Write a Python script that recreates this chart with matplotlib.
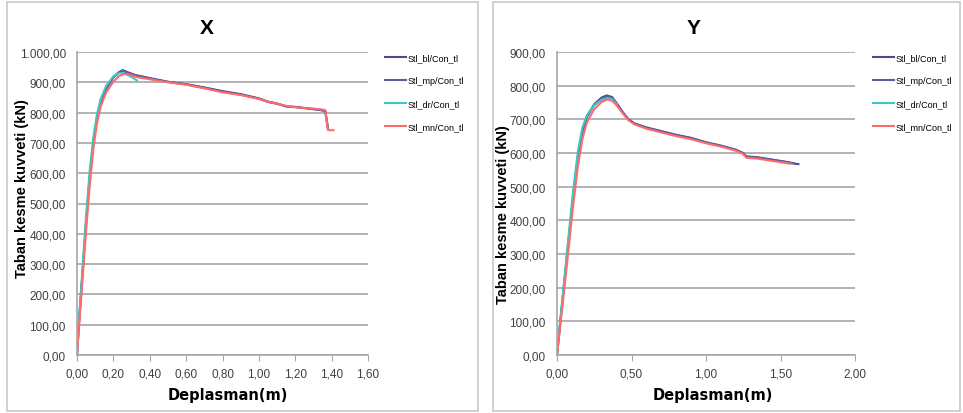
import matplotlib
matplotlib.use("Agg")
import matplotlib.pyplot as plt
from matplotlib.patches import Rectangle
from matplotlib.ticker import FuncFormatter

# --- X direction pushover curves (displacement m, base shear kN)
x_bl_d = [0, 0.01, 0.03, 0.05, 0.07, 0.09, 0.11, 0.13, 0.16, 0.20, 0.23, 0.25, 0.28, 0.32, 0.40,
          0.50, 0.60, 0.70, 0.80, 0.90, 1.00, 1.05, 1.10, 1.15, 1.20, 1.25, 1.30, 1.35, 1.365, 1.38]
x_bl_f = [0, 100, 270, 440, 590, 705, 785, 835, 880, 918, 933, 940, 933, 924, 914,
          902, 894, 883, 871, 861, 847, 836, 830, 820, 819, 815, 812, 807, 805, 748]
x_mp_d = [0, 0.01, 0.03, 0.05, 0.07, 0.09, 0.11, 0.13, 0.16, 0.20, 0.23, 0.25, 0.28, 0.32, 0.40,
          0.50, 0.60, 0.70, 0.80, 0.90, 1.00, 1.05, 1.10, 1.15, 1.20, 1.25, 1.30, 1.35, 1.365, 1.38]
x_mp_f = [0, 95, 265, 435, 585, 700, 782, 833, 878, 916, 931, 938, 931, 922, 912,
          901, 893, 882, 869, 859, 846, 835, 829, 821, 818, 815, 811, 808, 806, 746]
x_dr_d = [0, 0.01, 0.03, 0.05, 0.07, 0.09, 0.11, 0.13, 0.16, 0.20, 0.23, 0.25, 0.28, 0.31, 0.33]
x_dr_f = [0, 110, 285, 460, 610, 720, 795, 845, 888, 920, 930, 931, 924, 914, 906]
x_mn_d = [0, 0.01, 0.03, 0.05, 0.07, 0.09, 0.11, 0.13, 0.16, 0.20, 0.23, 0.26, 0.29, 0.33, 0.40,
          0.50, 0.60, 0.70, 0.80, 0.90, 1.00, 1.05, 1.10, 1.15, 1.20, 1.25, 1.30, 1.35, 1.365, 1.38, 1.41]
x_mn_f = [0, 85, 245, 410, 560, 680, 765, 820, 866, 902, 920, 928, 925, 917, 910,
          900, 892, 880, 867, 858, 845, 836, 830, 822, 818, 815, 813, 810, 808, 742, 742]

# --- Y direction pushover curves
y_bl_d = [0, 0.02, 0.05, 0.08, 0.11, 0.14, 0.17, 0.20, 0.25, 0.30, 0.335, 0.37, 0.40, 0.44,
          0.48, 0.52, 0.60, 0.70, 0.80, 0.90, 1.00, 1.10, 1.20, 1.25, 1.27, 1.35, 1.45, 1.55, 1.60, 1.62]
y_bl_f = [0, 90, 220, 350, 480, 590, 665, 708, 745, 765, 771, 766, 748, 722,
          700, 688, 676, 665, 654, 645, 632, 622, 610, 600, 590, 587, 580, 573, 568, 567]
y_mp_d = [0, 0.02, 0.05, 0.08, 0.11, 0.14, 0.17, 0.20, 0.25, 0.30, 0.335, 0.37, 0.40, 0.44,
          0.48, 0.52, 0.60, 0.70, 0.80, 0.90, 1.00, 1.10, 1.20, 1.25, 1.27, 1.35, 1.45, 1.55, 1.60]
y_mp_f = [0, 88, 218, 348, 478, 588, 662, 706, 743, 762, 768, 764, 747, 721,
          699, 687, 675, 664, 653, 644, 631, 621, 609, 599, 589, 586, 579, 572, 568]
y_dr_d = [0, 0.02, 0.05, 0.08, 0.11, 0.14, 0.17, 0.20, 0.25, 0.30, 0.34, 0.37, 0.40]
y_dr_f = [0, 95, 230, 365, 495, 605, 675, 712, 742, 758, 763, 760, 745]
y_mn_d = [0, 0.02, 0.05, 0.08, 0.11, 0.14, 0.17, 0.20, 0.25, 0.30, 0.34, 0.37, 0.40, 0.44,
          0.48, 0.52, 0.60, 0.70, 0.80, 0.90, 1.00, 1.10, 1.20, 1.25, 1.27, 1.35, 1.45, 1.57]
y_mn_f = [0, 80, 200, 325, 450, 560, 640, 690, 730, 752, 759, 755, 742, 718,
          697, 685, 672, 661, 650, 641, 629, 619, 607, 597, 586, 583, 576, 568]

labels = ["Stl_bl/Con_tl", "Stl_mp/Con_tl", "Stl_dr/Con_tl", "Stl_mn/Con_tl"]
colors = ["#4a4a8c", "#5c5ea6", "#3cc9c3", "#ff6b6b"]

sans = ["Liberation Sans", "DejaVu Sans"]
tick_col = "#404040"
grid_col = "#a6a6a6"


def comma_fmt(v, pos):
    s = "{:,.2f}".format(v)
    return s.replace(",", " ").replace(".", ",").replace(" ", ".")


fig = plt.figure(figsize=(9.63, 4.14), dpi=100)
W, H = 963.0, 414.0

# panel frames
for x0, x1 in [(7, 478), (493, 960)]:
    fig.patches.append(Rectangle((x0 / W, 1 - 412 / H), (x1 - x0) / W, 409 / H,
                                 transform=fig.transFigure, fill=False,
                                 edgecolor="#c8c8c8", linewidth=1.2))

panels = [
    dict(title="X", left=77, right=368, ymax=1000, xmax=1.6, xstep=0.2,
         data=[(x_bl_d, x_bl_f), (x_mp_d, x_mp_f), (x_dr_d, x_dr_f), (x_mn_d, x_mn_f)],
         leg_x=385, ylab=(22, 189), title_x=207, xlab_x=228),
    dict(title="Y", left=557, right=855, ymax=900, xmax=2.0, xstep=0.5,
         data=[(y_bl_d, y_bl_f), (y_mp_d, y_mp_f), (y_dr_d, y_dr_f), (y_mn_d, y_mn_f)],
         leg_x=873, ylab=(503, 215), title_x=694, xlab_x=713),
]

for p in panels:
    top, bot = 53, 356
    ax = fig.add_axes([p["left"] / W, 1 - bot / H, (p["right"] - p["left"]) / W, (bot - top) / H])
    for (d, f), c, lab in zip(p["data"], colors, labels):
        ax.plot(d, f, color=c, linewidth=1.5, label=lab)
    ax.set_xlim(0, p["xmax"])
    ax.set_ylim(0, p["ymax"])
    n = int(round(p["xmax"] / p["xstep"]))
    ax.set_xticks([i * p["xstep"] for i in range(n + 1)])
    ax.set_yticks(range(0, p["ymax"] + 1, 100))
    ax.xaxis.set_major_formatter(FuncFormatter(comma_fmt))
    ax.yaxis.set_major_formatter(FuncFormatter(comma_fmt))
    ax.grid(axis="y", color=grid_col, linewidth=1.2)
    ax.set_axisbelow(True)
    for s in ["top", "right"]:
        ax.spines[s].set_visible(False)
    for s in ["left", "bottom"]:
        ax.spines[s].set_color(grid_col)
        ax.spines[s].set_linewidth(1.2)
    ax.tick_params(axis="y", length=0, pad=8, labelcolor=tick_col)
    ax.tick_params(axis="x", length=4, color=grid_col, pad=5, labelcolor=tick_col)
    for t in ax.get_xticklabels() + ax.get_yticklabels():
        t.set_family(sans)
        t.set_fontsize(8.5)
    fig.text(p["title_x"] / W, 1 - 28 / H, p["title"], ha="center", va="center",
             fontsize=15, fontweight="bold", family=sans)
    fig.text(p["xlab_x"] / W, 1 - 396 / H, "Deplasman(m)", ha="center", va="center",
             fontsize=10.5, fontweight="bold", family="DejaVu Sans")
    fig.text(p["ylab"][0] / W, 1 - p["ylab"][1] / H, "Taban kesme kuvveti (kN)",
             ha="center", va="center", rotation=90, fontsize=10.5, fontweight="bold",
             family=sans)
    ax.legend(loc="upper left", bbox_to_anchor=(p["leg_x"] / W, 1 - 54 / H),
              bbox_transform=fig.transFigure, frameon=False, handlelength=2.3,
              handletextpad=0.15, labelspacing=1.55, borderaxespad=0, borderpad=0,
              prop=dict(family=sans, size=6.5))

fig.savefig("out.png", dpi=100)
